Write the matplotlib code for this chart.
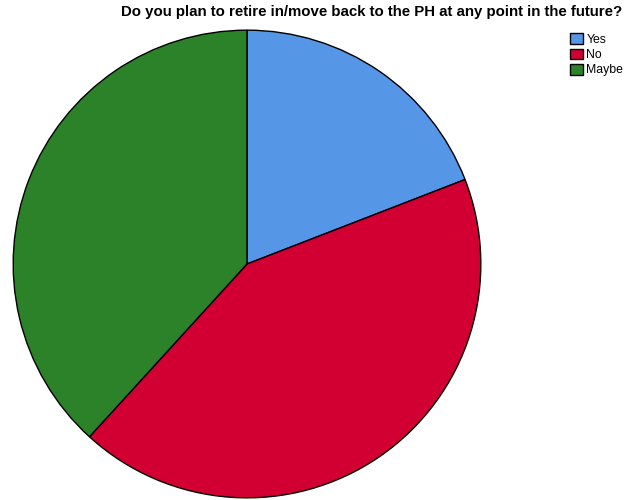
import matplotlib
matplotlib.use("Agg")
import matplotlib.pyplot as plt

plt.rcParams['font.family'] = ['Liberation Sans', 'DejaVu Sans']

categories = ["Yes", "No", "Maybe"]
counts = [13, 29, 26]
colors = ["#5596E6", "#D20032", "#2B8228"]
title = "Do you plan to retire in/move back to the PH at any point in the future?"

W, H = 626, 500
fig = plt.figure(figsize=(W / 100, H / 100), dpi=100)

cx, cy, r = 247, 264, 235
ax = fig.add_axes([(cx - r) / W, (H - cy - r) / H, 2 * r / W, 2 * r / H])
wedges, _ = ax.pie(counts, colors=colors, startangle=90, counterclock=False,
                   radius=1.0,
                   wedgeprops=dict(edgecolor="black", linewidth=1.0))
ax.set_xlim(-1.005, 1.005)
ax.set_ylim(-1.005, 1.005)
ax.set_aspect('auto')
ax.axis('off')

fig.text(372 / W, 1 - 12 / H, title, ha='center', va='center',
         fontsize=10.8, fontweight='bold', color='black')

fig.legend(wedges, categories, loc='upper left',
           bbox_to_anchor=(568 / W, 1 - 31 / H), frameon=False,
           fontsize=8.8, handlelength=1.0, handleheight=1.0,
           handletextpad=0.3, labelspacing=0.2, borderaxespad=0,
           borderpad=0.2)

fig.savefig("out.png", dpi=100)
